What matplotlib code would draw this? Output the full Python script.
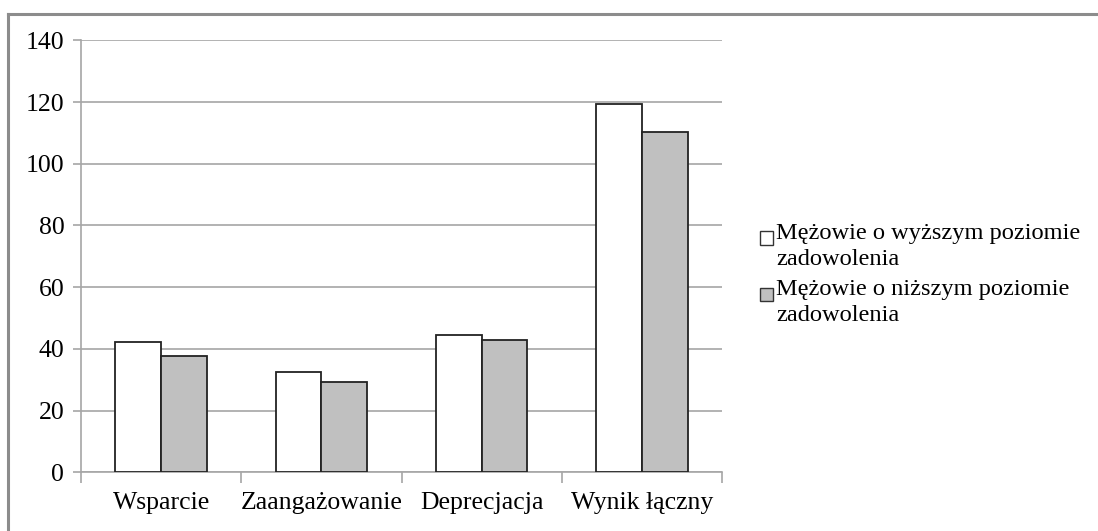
import matplotlib
matplotlib.use("Agg")
import matplotlib.pyplot as plt
from matplotlib.patches import Rectangle
from matplotlib.lines import Line2D
import numpy as np

categories = ["Wsparcie", "Zaangażowanie", "Deprecjacja", "Wynik łączny"]
higher = [42.3, 32.6, 44.5, 119.2]
lower = [37.8, 29.2, 42.9, 110.2]
series_labels = ["Mężowie o wyższym poziomie\nzadowolenia",
                 "Mężowie o niższym poziomie\nzadowolenia"]
series_colors = ["white", "#c0c0c0"]
yticks = [0, 20, 40, 60, 80, 100, 120, 140]

plt.rcParams['font.family'] = ['Liberation Serif', 'DejaVu Serif']
FS = 18.5
LFS = 17.6

W, H = 1098, 531
fig = plt.figure(figsize=(W / 100, H / 100), dpi=100)
ax = fig.add_axes([81 / W, 1 - 472.3 / H, (722 - 81) / W, (472.3 - 40.3) / H])

x = np.arange(len(categories))
bw = 0.286
ax.bar(x - bw / 2, higher, bw, color=series_colors[0], edgecolor="#222222", linewidth=1.3, zorder=3)
ax.bar(x + bw / 2, lower, bw, color=series_colors[1], edgecolor="#222222", linewidth=1.3, zorder=3)

ax.set_xlim(-0.5, len(categories) - 0.5)
ax.set_ylim(0, 140)
ax.set_yticks(yticks)
ax.set_yticklabels([str(v) for v in yticks], fontsize=FS)
ax.yaxis.grid(True, color="#a6a6a6", linewidth=1.2, zorder=0)
ax.set_axisbelow(True)

ax.set_xticks(np.arange(-0.5, len(categories), 1.0))
ax.set_xticklabels([])
ax.set_xticks(x, minor=True)
ax.set_xticklabels(categories, minor=True, fontsize=FS)
ax.tick_params(axis="x", which="minor", length=0, pad=14)
ax.tick_params(axis="x", which="major", length=8, width=1.2, color="#a6a6a6", direction="out")
ax.tick_params(axis="y", length=6, width=1.2, color="#a6a6a6", pad=6)

for s in ["top", "right"]:
    ax.spines[s].set_visible(False)
for s in ["left", "bottom"]:
    ax.spines[s].set_color("#a6a6a6")
    ax.spines[s].set_linewidth(1.2)

# legend drawn manually (square aligned to the first text line, like the source)
first_line_centers = [238, 294]
for lab, col, yc in zip(series_labels, series_colors, first_line_centers):
    fig.add_artist(Rectangle((760 / W, 1 - (yc + 6.5) / H), 13 / W, 13 / H,
                             facecolor=col, edgecolor="#333333", linewidth=1.0,
                             transform=fig.transFigure))
    fig.text(776 / W, 1 - (yc - 15) / H, lab, fontsize=LFS, va="top", ha="left",
             linespacing=1.3)

# outer frame lines (top and left)
fig.add_artist(Line2D([8 / W, 1.0], [1 - 14 / H, 1 - 14 / H], color="#8c8c8c", linewidth=2.2, transform=fig.transFigure))
fig.add_artist(Line2D([8 / W, 8 / W], [0.0, 1 - 14 / H], color="#8c8c8c", linewidth=2.2, transform=fig.transFigure))

fig.savefig("out.png", dpi=100)
